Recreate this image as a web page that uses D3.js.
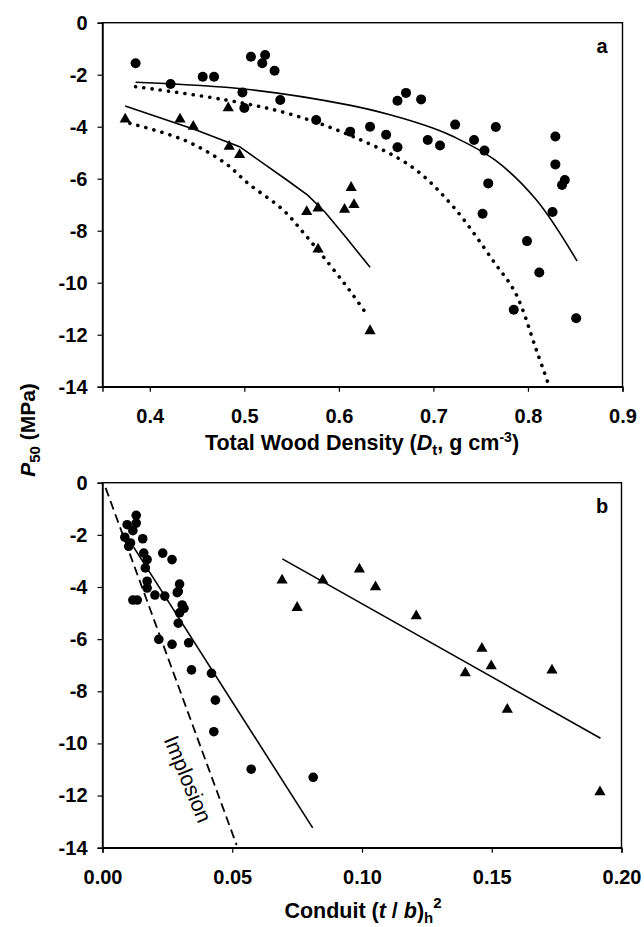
<!DOCTYPE html>
<html>
<head>
<meta charset="utf-8">
<script src="https://cdn.jsdelivr.net/npm/d3@7"></script>
<style>
  html, body { margin: 0; padding: 0; background: #fff; }
  svg text { font-family: "Liberation Sans", Arial, Helvetica, sans-serif; fill: #000; }
</style>
</head>
<body>
<svg id="chart" width="644" height="927"></svg>
<script>
// ---------- Panel a data (x = total wood density, y = P50) ----------
const aCircleX = [0.385,0.422,0.456,0.468,0.507,0.522,0.519,0.532,0.498,0.500,0.538,0.576,0.612,0.633,0.650,0.662,0.662,0.671,0.687,0.694,0.707,0.723,0.743,0.754,0.766,0.758,0.829,0.829,0.839,0.836,0.752,0.826,0.799,0.812,0.785,0.851];
const aCircleY = [-1.56,-2.36,-2.08,-2.08,-1.31,-1.24,-1.56,-1.85,-2.68,-3.28,-2.97,-3.74,-4.19,-4.00,-4.31,-4.79,-3.00,-2.70,-2.95,-4.51,-4.72,-3.92,-4.51,-4.92,-4.01,-6.18,-4.38,-5.45,-6.05,-6.24,-7.35,-7.28,-8.40,-9.61,-11.04,-11.37];
const aTriX = [0.374,0.432,0.446,0.483,0.484,0.495,0.613,0.566,0.578,0.606,0.616,0.578,0.633];
const aTriY = [-3.70,-3.70,-3.98,-3.27,-4.75,-5.07,-6.33,-7.26,-7.12,-7.17,-6.99,-8.70,-11.84];
// fitted curves
const aFitCircSolidX = [0.385,0.502,0.611,0.655,0.700,0.721,0.765,0.809,0.852];
const aFitCircSolidY = [-2.29,-2.56,-3.17,-3.55,-4.06,-4.38,-5.28,-6.82,-9.17];
const aFitCircDotX = [0.385,0.480,0.546,0.611,0.677,0.721,0.765,0.787,0.809,0.822];
const aFitCircDotY = [-2.46,-2.97,-3.49,-4.32,-5.54,-7.08,-9.25,-10.41,-12.60,-13.94];
const aFitTriSolidX = [0.374,0.449,0.495,0.545,0.567,0.585,0.607,0.633];
const aFitTriSolidY = [-3.20,-4.13,-4.77,-6.05,-6.63,-7.27,-8.23,-9.41];
const aFitTriDotX = [0.379,0.436,0.480,0.504,0.541,0.563,0.589,0.611,0.630];
const aFitTriDotY = [-3.87,-4.51,-5.41,-6.18,-7.20,-8.10,-9.25,-10.28,-11.24];

// ---------- Panel b data (x = conduit (t/b)h^2, y = P50) ----------
const bCircleX = [0.0130,0.0130,0.0095,0.0117,0.0086,0.0108,0.0101,0.0155,0.0159,0.0172,0.0165,0.0232,0.0268,0.0172,0.0172,0.0297,0.0292,0.0117,0.0134,0.0202,0.0240,0.0288,0.0307,0.0314,0.0297,0.0292,0.0217,0.0268,0.0332,0.0343,0.0420,0.0435,0.0429,0.0573,0.0812];
const bCircleY = [-1.25,-1.55,-1.61,-1.84,-2.09,-2.31,-2.44,-2.15,-2.70,-2.95,-3.27,-2.70,-2.95,-3.78,-4.04,-3.89,-4.17,-4.50,-4.50,-4.31,-4.35,-4.22,-4.69,-4.82,-4.99,-5.39,-6.01,-6.20,-6.14,-7.18,-7.31,-8.34,-9.55,-10.99,-11.30];
const bTriX = [0.0692,0.0750,0.0849,0.0990,0.1052,0.1209,0.1462,0.1498,0.1398,0.1560,0.1732,0.1917];
const bTriY = [-3.73,-4.78,-3.73,-3.31,-3.99,-5.10,-6.35,-7.02,-7.29,-8.69,-7.18,-11.85];
const bFitCircX = [0.012,0.081];
const bFitCircY = [-2.47,-13.24];
const bFitTriX = [0.0693,0.1919];
const bFitTriY = [-2.92,-9.80];
const bImplosionX = [0.0012,0.0517];
const bImplosionY = [-0.20,-13.90];

// ---------- ticks ----------
const yTicks = [0,-2,-4,-6,-8,-10,-12,-14];
const aXTicks = [0.4,0.5,0.6,0.7,0.8,0.9];
const bXTicks = [0.00,0.05,0.10,0.15,0.20];

const svg = d3.select("#chart");
const FS = 20;     // tick labels
const TFS = 21.5;  // axis titles

const xA = d3.scaleLinear().domain([0.35, 0.9]).range([102.5, 622.5]);
const yA = d3.scaleLinear().domain([0, -14]).range([22.7, 386.7]);
const xB = d3.scaleLinear().domain([0, 0.2]).range([102.5, 621.5]);
const yB = d3.scaleLinear().domain([0, -14]).range([482.7, 847.7]);

function zip(xs, ys) { return xs.map((x, i) => [x, ys[i]]); }

function drawPanel(x, y, xTicks, xFmt, letter) {
  const [x0, x1] = x.range(), [y0, y1] = y.range();
  svg.append("rect").attr("x", x0).attr("y", y0).attr("width", x1 - x0).attr("height", y1 - y0)
    .attr("fill", "none").attr("stroke", "#000").attr("stroke-width", 1.4);
  const gy = svg.append("g").attr("transform", `translate(${x0},0)`)
    .call(d3.axisLeft(y).tickValues(yTicks).tickSize(5).tickPadding(10).tickFormat(d => String(d)));
  const gx = svg.append("g").attr("transform", `translate(0,${y1})`)
    .call(d3.axisBottom(x).tickValues(xTicks).tickSize(5).tickPadding(17).tickFormat(xFmt));
  [gx, gy].forEach(g => {
    g.select(".domain").attr("stroke", "#000").attr("stroke-width", 1.4);
    g.selectAll(".tick line").attr("stroke", "#000").attr("stroke-width", 1.2);
    g.selectAll(".tick text").attr("font-size", FS).attr("font-weight", "bold")
      .attr("font-family", "'Liberation Sans', Arial, sans-serif").attr("fill", "#000");
  });
  svg.append("text").attr("x", 602).attr("y", y0 + 30).attr("text-anchor", "middle")
    .attr("font-size", FS).attr("font-weight", "bold").text(letter);
}

function circles(x, y, xs, ys, r) {
  svg.append("g").selectAll("circle").data(zip(xs, ys)).join("circle")
    .attr("cx", d => x(d[0])).attr("cy", d => y(d[1])).attr("r", r).attr("fill", "#000");
}
function triangles(x, y, xs, ys) {
  svg.append("g").selectAll("path").data(zip(xs, ys)).join("path")
    .attr("d", "M0,-6.2L5.6,3.6L-5.6,3.6Z")
    .attr("transform", d => `translate(${x(d[0])},${y(d[1])})`).attr("fill", "#000");
}
function curve(x, y, xs, ys, style, curveType) {
  const line = d3.line().x(d => x(d[0])).y(d => y(d[1])).curve(curveType || d3.curveLinear);
  const p = svg.append("path").attr("d", line(zip(xs, ys))).attr("fill", "none").attr("stroke", "#000");
  if (style === "solid") p.attr("stroke-width", 1.6);
  if (style === "dot") p.attr("stroke-width", 3.6).attr("stroke-linecap", "round").attr("stroke-dasharray", "0.1 8.2");
  if (style === "dash") p.attr("stroke-width", 1.8).attr("stroke-dasharray", "9 5");
}

// Panel a
drawPanel(xA, yA, aXTicks, d3.format(".1f"), "a");
curve(xA, yA, aFitCircSolidX, aFitCircSolidY, "solid", d3.curveCatmullRom);
curve(xA, yA, aFitCircDotX, aFitCircDotY, "dot", d3.curveCatmullRom);
curve(xA, yA, aFitTriSolidX, aFitTriSolidY, "solid", d3.curveLinear);
curve(xA, yA, aFitTriDotX, aFitTriDotY, "dot", d3.curveCatmullRom);
circles(xA, yA, aCircleX, aCircleY, 5);
triangles(xA, yA, aTriX, aTriY);

// Panel b
drawPanel(xB, yB, bXTicks, d3.format(".2f"), "b");
curve(xB, yB, bImplosionX, bImplosionY, "dash");
curve(xB, yB, bFitCircX, bFitCircY, "solid");
curve(xB, yB, bFitTriX, bFitTriY, "solid");
circles(xB, yB, bCircleX, bCircleY, 4.8);
triangles(xB, yB, bTriX, bTriY);

svg.append("text").attr("transform", "translate(188,779) rotate(67.5)")
  .attr("text-anchor", "middle").attr("dy", "0.35em").attr("font-size", 21.5).text("Implosion");

// Axis titles
const tA = svg.append("text").attr("x", 362).attr("y", 450).attr("text-anchor", "middle")
  .attr("font-size", TFS).attr("font-weight", "bold");
tA.append("tspan").text("Total Wood Density (");
tA.append("tspan").attr("font-style", "italic").text("D");
tA.append("tspan").attr("font-size", 15).attr("dy", 5).text("t");
tA.append("tspan").attr("dy", -5).text(", g cm");
tA.append("tspan").attr("font-size", 14).attr("dy", -8).text("-3");
tA.append("tspan").attr("dy", 8).text(")");

const tB = svg.append("text").attr("x", 363).attr("y", 918).attr("text-anchor", "middle")
  .attr("font-size", TFS).attr("font-weight", "bold");
tB.append("tspan").text("Conduit (");
tB.append("tspan").attr("font-style", "italic").text("t");
tB.append("tspan").text(" / ");
tB.append("tspan").attr("font-style", "italic").text("b");
tB.append("tspan").text(")");
tB.append("tspan").attr("font-size", 15).attr("dy", 5).text("h");
tB.append("tspan").attr("font-size", 15).attr("dy", -15).text("2");

const tY = svg.append("text").attr("transform", "translate(35,430) rotate(-90)")
  .attr("text-anchor", "middle").attr("font-size", 21).attr("font-weight", "bold");
tY.append("tspan").attr("font-style", "italic").text("P");
tY.append("tspan").attr("font-size", 15).attr("dy", 5).text("50");
tY.append("tspan").attr("dy", -5).text(" (MPa)");
</script>
</body>
</html>
